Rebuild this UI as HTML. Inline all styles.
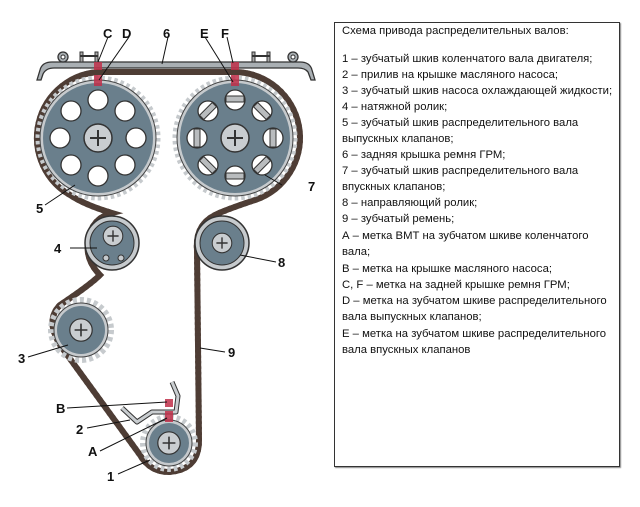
<!DOCTYPE html>
<html><head><meta charset="utf-8"><style>
html,body{margin:0;padding:0;background:#fff;}
body{width:640px;height:507px;position:relative;overflow:hidden;font-family:"Liberation Sans","DejaVu Sans",sans-serif;}
#box{position:absolute;left:334px;top:22px;width:286px;height:445px;border:1px solid #333;box-shadow:1px 1px 1px #888;box-sizing:border-box;}
#box div{position:absolute;left:7px;font-size:11.3px;color:#111;white-space:nowrap;}
svg{position:absolute;left:0;top:0;}
</style></head><body>
<svg width="330" height="507" viewBox="0 0 330 507">
<defs>
<g id="bolt"><circle r="14" fill="#c9cdd0" stroke="#333" stroke-width="1.5"/><path d="M-8 0H8M0 -8V8" stroke="#333" stroke-width="2"/></g>
</defs>
<!-- cover 6 -->
<path d="M37 80 L40 70 Q42 62 52 62 L300 62 Q310 62 312 70 L315 80 L311 80 L308 72 Q305 68 298 68 L54 68 Q46 68 43 74 L41 80 Z" fill="#a9afb3" stroke="#333" stroke-width="1.3"/>
<circle cx="63" cy="57" r="5" fill="#a9afb3" stroke="#333" stroke-width="1.3"/><circle cx="63" cy="57" r="2" fill="#fff" stroke="#333"/>
<circle cx="293" cy="57" r="5" fill="#a9afb3" stroke="#333" stroke-width="1.3"/><circle cx="293" cy="57" r="2" fill="#fff" stroke="#333"/>
<rect x="80" y="52" width="3" height="10" fill="#aaa" stroke="#333"/><rect x="95" y="52" width="3" height="10" fill="#aaa" stroke="#333"/><rect x="80" y="55" width="18" height="2" fill="#333"/>
<rect x="252" y="52" width="3" height="10" fill="#aaa" stroke="#333"/><rect x="267" y="52" width="3" height="10" fill="#aaa" stroke="#333"/><rect x="252" y="55" width="18" height="2" fill="#333"/>
<!-- belt -->
<g fill="none">
<path id="belt" d="M98 72 L235 72 A66 66 0 0 1 300 138 A66 66 0 0 1 255 200 Q225 210 215 215 Q195 225 197 250 L199 440 Q199 470 169 472 Q150 472 140 455 L60 345 Q45 320 60 305 Q90 285 100 275 Q85 260 88 240 Q92 218 112 213 Q85 205 70 195 A66 66 0 0 1 98 72 Z" stroke="#4e3d35" stroke-width="6"/>
<use href="#belt" stroke="#4e3d35" stroke-width="11" stroke-dasharray="2.5 3"/>
</g>
<!-- pulley 5 -->
<circle cx="98" cy="138" r="60" fill="none" stroke="#c6cacd" stroke-width="5" stroke-dasharray="3.5 3"/>
<circle cx="98" cy="138" r="58" fill="#c6cacd" stroke="#444" stroke-width="1"/>
<circle cx="98" cy="138" r="55" fill="#6a7f8c"/>
<g fill="#fff" stroke="#333" stroke-width="1.3">
<circle cx="98" cy="100" r="10"/><circle cx="125" cy="111" r="10"/><circle cx="136" cy="138" r="10"/><circle cx="125" cy="165" r="10"/>
<circle cx="98" cy="176" r="10"/><circle cx="71" cy="165" r="10"/><circle cx="60" cy="138" r="10"/><circle cx="71" cy="111" r="10"/></g>
<use href="#bolt" x="98" y="138"/>
<!-- pulley 7 -->
<circle cx="235" cy="138" r="60" fill="none" stroke="#c6cacd" stroke-width="5" stroke-dasharray="3.5 3"/>
<circle cx="235" cy="138" r="58" fill="#c6cacd" stroke="#444" stroke-width="1"/>
<circle cx="235" cy="138" r="55" fill="#6a7f8c"/>
<g fill="#fff" stroke="#333" stroke-width="1.3">
<circle cx="235" cy="100" r="10"/><circle cx="262" cy="111" r="10"/><circle cx="273" cy="138" r="10"/><circle cx="262" cy="165" r="10"/>
<circle cx="235" cy="176" r="10"/><circle cx="208" cy="165" r="10"/><circle cx="197" cy="138" r="10"/><circle cx="208" cy="111" r="10"/></g>
<g fill="#b9bcbe" stroke="#333">
<rect x="226" y="96" width="18" height="6"/><rect x="226" y="173" width="18" height="6"/>
<rect x="270" y="129" width="6" height="18"/><rect x="194" y="129" width="6" height="18"/>
<rect x="253" y="108" width="18" height="6" transform="rotate(45 262 111)"/><rect x="199" y="162" width="18" height="6" transform="rotate(45 208 165)"/>
<rect x="253" y="162" width="18" height="6" transform="rotate(-45 262 165)"/><rect x="199" y="108" width="18" height="6" transform="rotate(-45 208 111)"/></g>
<use href="#bolt" x="235" y="138"/>
<!-- pulley 4 -->
<circle cx="112" cy="243" r="27" fill="#c6cacd" stroke="#333" stroke-width="1.5"/>
<circle cx="112" cy="243" r="22" fill="#6a7f8c" stroke="#333"/>
<g transform="translate(113,236) scale(0.7)"><use href="#bolt"/></g>
<circle cx="106" cy="258" r="3" fill="#c6cacd" stroke="#333"/><circle cx="121" cy="258" r="3" fill="#c6cacd" stroke="#333"/>
<!-- pulley 8 -->
<circle cx="222" cy="243" r="27" fill="#c6cacd" stroke="#333" stroke-width="1.5"/>
<circle cx="222" cy="243" r="22" fill="#6a7f8c" stroke="#333"/>
<g transform="translate(222,243) scale(0.7)"><use href="#bolt"/></g>
<!-- pulley 3 -->
<circle cx="81" cy="330" r="30" fill="none" stroke="#c6cacd" stroke-width="6" stroke-dasharray="4 3"/>
<circle cx="81" cy="330" r="27" fill="#c6cacd" stroke="#444"/>
<circle cx="81" cy="330" r="24" fill="#6a7f8c"/>
<g transform="translate(81,330) scale(0.8)"><use href="#bolt"/></g>
<!-- pulley 1 -->
<circle cx="169" cy="443" r="26" fill="none" stroke="#c6cacd" stroke-width="6" stroke-dasharray="3.5 3"/>
<circle cx="169" cy="443" r="23" fill="#c6cacd" stroke="#444"/>
<circle cx="169" cy="443" r="20" fill="#6a7f8c"/>
<g transform="translate(169,443) scale(0.8)"><use href="#bolt"/></g>
<!-- bracket 2 -->
<path d="M122 408 L137 422 L152 412 L176 412 L178 396 L172 382" fill="none" stroke="#333" stroke-width="5" stroke-linejoin="round"/>
<path d="M122 408 L137 422 L152 412 L176 412 L178 396 L172 382" fill="none" stroke="#c9cdd0" stroke-width="3" stroke-linejoin="round"/>
<!-- red marks -->
<g fill="#c0304a" opacity="0.85">
<rect x="94" y="62" width="8" height="8"/><rect x="94" y="75" width="8" height="11"/>
<rect x="231" y="62" width="8" height="8"/><rect x="231" y="75" width="8" height="11"/>
<rect x="165" y="399" width="8" height="8"/><rect x="165" y="411" width="8" height="11"/></g>
<!-- leaders -->
<g stroke="#111" stroke-width="1">
<path d="M108 37 L98 62"/><path d="M129 37 L99 80"/><path d="M168 37 L162 64"/>
<path d="M205 37 L233 82"/><path d="M227 37 L233 63"/>
<path d="M45 205 L75 185"/><path d="M282 185 L265 175"/>
<path d="M70 248 L97 248"/><path d="M276 262 L240 255"/>
<path d="M28 357 L68 345"/><path d="M225 352 L200 348"/>
<path d="M67 408 L167 402"/><path d="M87 428 L130 420"/><path d="M100 451 L167 418"/><path d="M118 474 L150 460"/>
</g>
<g font-family="Liberation Sans, sans-serif" font-weight="bold" font-size="13" fill="#111">
<text x="103" y="38">C</text><text x="122" y="38">D</text><text x="163" y="38">6</text>
<text x="200" y="38">E</text><text x="221" y="38">F</text>
<text x="36" y="213">5</text><text x="308" y="191">7</text>
<text x="54" y="253">4</text><text x="278" y="267">8</text>
<text x="18" y="363">3</text><text x="228" y="357">9</text>
<text x="56" y="413">B</text><text x="76" y="434">2</text><text x="88" y="456">A</text><text x="107" y="481">1</text>
</g>
</svg>
<div id="box">
<div style="top:2px">Схема привода распределительных валов:</div>
<div style="top:30px">1 – зубчатый шкив коленчатого вала двигателя;</div>
<div style="top:46px">2 – прилив на крышке масляного насоса;</div>
<div style="top:62px">3 – зубчатый шкив насоса охлаждающей жидкости;</div>
<div style="top:78px">4 – натяжной ролик;</div>
<div style="top:94px">5 – зубчатый шкив распределительного вала</div>
<div style="top:110px">выпускных клапанов;</div>
<div style="top:126px">6 – задняя крышка ремня ГРМ;</div>
<div style="top:142px">7 – зубчатый шкив распределительного вала</div>
<div style="top:158px">впускных клапанов;</div>
<div style="top:174px">8 – направляющий ролик;</div>
<div style="top:190px">9 – зубчатый ремень;</div>
<div style="top:207px">А – метка ВМТ на зубчатом шкиве коленчатого</div>
<div style="top:223px">вала;</div>
<div style="top:240px">В – метка на крышке масляного насоса;</div>
<div style="top:256px">C, F – метка на задней крышке ремня ГРМ;</div>
<div style="top:272px">D – метка на зубчатом шкиве распределительного</div>
<div style="top:288px">вала выпускных клапанов;</div>
<div style="top:305px">E – метка на зубчатом шкиве распределительного</div>
<div style="top:321px">вала впускных клапанов</div>
</div>
</body></html>
